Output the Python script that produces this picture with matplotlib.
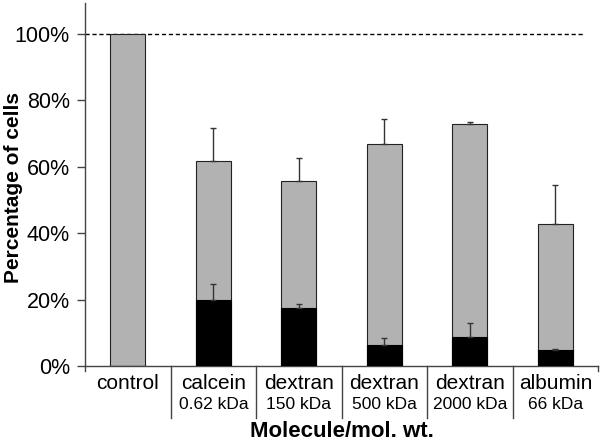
import matplotlib.pyplot as plt
from matplotlib.ticker import FuncFormatter

plt.rcParams['font.family'] = ['Liberation Sans', 'DejaVu Sans']

# data (percent)
names = ['control', 'calcein', 'dextran', 'dextran', 'dextran', 'albumin']
weights = ['', '0.62 kDa', '150 kDa', '500 kDa', '2000 kDa', '66 kDa']
total = [100, 61.8, 55.8, 67.0, 72.8, 42.8]
total_err = [0, 10.0, 6.9, 7.4, 0.7, 11.7]
inner = [0, 19.9, 17.4, 6.3, 8.7, 4.8]
inner_err = [0, 4.8, 1.2, 2.0, 4.3, 0.3]

fig = plt.figure(figsize=(6, 4.41), dpi=100)
ax = fig.add_axes([0.142, 0.170, 0.855, 0.823])

x = list(range(len(names)))
w = 0.41
ax.bar(x, total, w, color='#b2b2b2', edgecolor='#222222', linewidth=0.8, zorder=2)
ax.bar(x, inner, w, color='black', edgecolor='black', linewidth=0.8, zorder=3)
for i in x:
    if total_err[i] > 0:
        ax.errorbar(i, total[i], yerr=[[0], [total_err[i]]], fmt='none',
                    ecolor='#333333', elinewidth=1, capsize=2.5, capthick=1, zorder=4)
    if inner_err[i] > 0:
        ax.errorbar(i, inner[i], yerr=[[0], [inner_err[i]]], fmt='none',
                    ecolor='#333333', elinewidth=1, capsize=2.5, capthick=1, zorder=4)

ax.axhline(100, xmin=0, xmax=0.97, color='black', linestyle=(0, (3, 2)), linewidth=1, zorder=1)

ax.set_xlim(-0.5, 5.5)
ax.set_ylim(0, 109.3)
ax.set_yticks([0, 20, 40, 60, 80, 100])
ax.yaxis.set_major_formatter(FuncFormatter(lambda v, p: '%d%%' % v))
ax.tick_params(axis='y', labelsize=15.5, length=6, width=1, color='#444444', pad=5)
ax.set_xticks([])

for s in ['top', 'right']:
    ax.spines[s].set_visible(False)
for s in ['left', 'bottom']:
    ax.spines[s].set_color('#444444')
    ax.spines[s].set_linewidth(1)

# group dividers under the axis
for b in [0.5, 1.5, 2.5, 3.5, 4.5]:
    ax.plot([b, b], [0, -0.143], transform=ax.get_xaxis_transform(),
            color='#444444', linewidth=1, clip_on=False)
ax.plot([5.5, 5.5], [0, -0.015], transform=ax.get_xaxis_transform(),
        color='#444444', linewidth=1, clip_on=False)
ax.plot([-0.5, -0.5], [0, -0.015], transform=ax.get_xaxis_transform(),
        color='#444444', linewidth=1, clip_on=False)

for i in x:
    ax.text(i, -0.047, names[i], transform=ax.get_xaxis_transform(),
            ha='center', va='center', fontsize=15)
    if weights[i]:
        ax.text(i, -0.105, weights[i], transform=ax.get_xaxis_transform(),
                ha='center', va='center', fontsize=12.5)

ax.text(2.5, -0.18, 'Molecule/mol. wt.', transform=ax.get_xaxis_transform(),
        ha='center', va='center', fontsize=16, fontweight='bold')
fig.text(0.022, 0.574, 'Percentage of cells', rotation=90, ha='center', va='center',
         fontsize=15, fontweight='bold')

fig.savefig('out.png', dpi=100)
